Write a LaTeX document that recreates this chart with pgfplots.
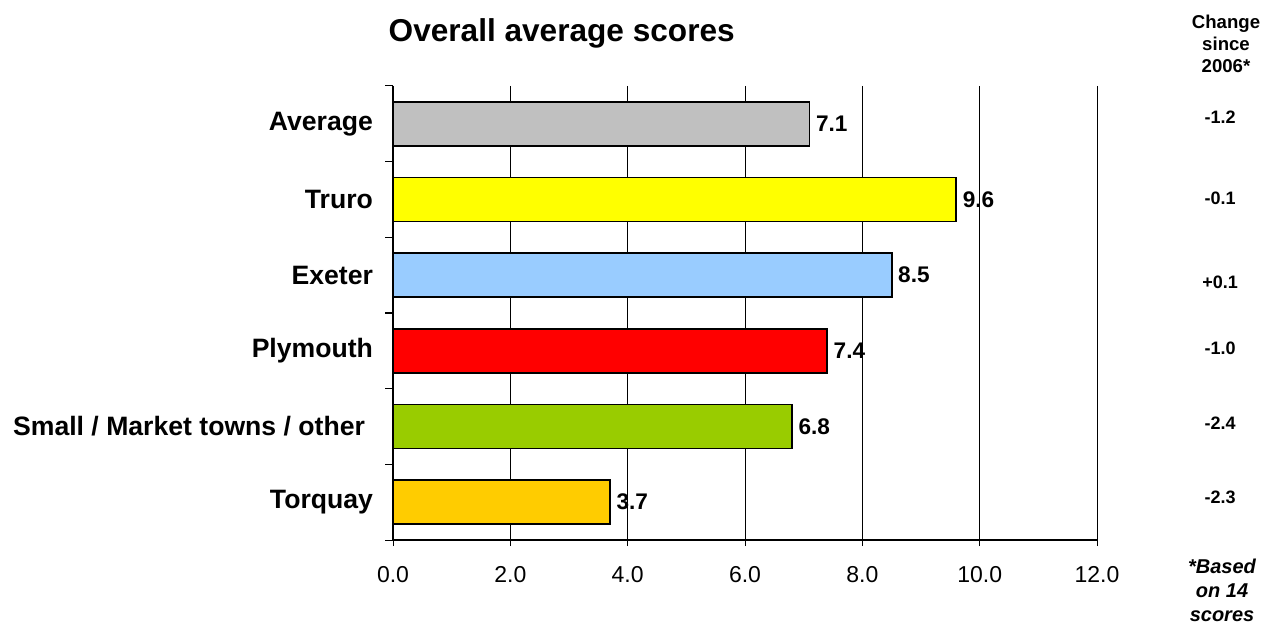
\documentclass[border=0pt]{standalone}
\usepackage{pgfplots}
\pgfplotsset{compat=1.18}
\usepackage{fontspec}
\setmainfont{Liberation Sans}

\definecolor{barGray}{HTML}{C0C0C0}
\definecolor{barYellow}{HTML}{FFFF00}
\definecolor{barBlue}{HTML}{99CCFF}
\definecolor{barRed}{HTML}{FF0000}
\definecolor{barGreen}{HTML}{99CC00}
\definecolor{barOrange}{HTML}{FFCC00}

\begin{document}
\begin{tikzpicture}
\path[use as bounding box] (0,0) rectangle (636pt,312pt);

% title
\node[anchor=west, font=\bfseries\fontsize{15.8}{19}\selectfont] at (190.8pt,295.5pt) {Overall average scores};

\begin{axis}[
  at={(196.5pt,42pt)}, anchor=south west,
  scale only axis, width=352pt, height=227pt,
  xmin=0, xmax=12, ymin=-0.5, ymax=5.5,
  y dir=reverse,
  axis lines*=left,
  axis line style={black, line width=0.6pt},
  xtick={0,2,...,12},
  xmajorgrids=true,
  grid style={black, line width=0.5pt},
  xticklabel style={font=\fontsize{11.5}{13}\selectfont, yshift=-6.5pt,
    /pgf/number format/.cd, fixed, zerofill, precision=1, assume math mode=true},
  ytick={0,...,5},
  yticklabels={Average, Truro, Exeter, Plymouth, {Small / Market towns / other\rule{4pt}{0pt}}, Torquay},
  yticklabel style={font=\bfseries\fontsize{13.3}{15}\selectfont, xshift=-3.5pt},
  minor ytick={-0.5,0.5,...,5.5},
  tick align=outside,
  major tick length=3pt,
  minor tick length=4pt,
  major y tick style={draw=none},
  minor y tick style={draw=black, line width=0.5pt},
  xtick style={black, line width=0.5pt},
  clip=false,
  xbar, bar width=22pt, bar shift=0pt,
  nodes near coords,
  point meta=x,
  nodes near coords style={font=\bfseries\fontsize{11.3}{14}\selectfont, anchor=west, xshift=-0.5pt,
    /pgf/number format/.cd, fixed, zerofill, precision=1, assume math mode=true},
]
\addplot[draw=black, line width=0.9pt, fill=barGray]   coordinates {(7.1,0)};
\addplot[draw=black, line width=0.9pt, fill=barYellow] coordinates {(9.6,1)};
\addplot[draw=black, line width=0.9pt, fill=barBlue]   coordinates {(8.5,2)};
\addplot[draw=black, line width=0.9pt, fill=barRed]    coordinates {(7.4,3)};
\addplot[draw=black, line width=0.9pt, fill=barGreen]  coordinates {(6.8,4)};
\addplot[draw=black, line width=0.9pt, fill=barOrange] coordinates {(3.7,5)};

% change since 2006 column
\begin{scope}[every node/.style={font=\bfseries\fontsize{9}{10}\selectfont}]
\node at (axis cs:14.1,-0.09) {-1.2};
\node at (axis cs:14.1,0.99) {-0.1};
\node at (axis cs:14.1,2.09) {+0.1};
\node at (axis cs:14.1,2.97) {-1.0};
\node at (axis cs:14.1,3.96) {-2.4};
\node at (axis cs:14.1,4.93) {-2.3};
\end{scope}
\end{axis}

\node[align=center, font=\bfseries\fontsize{9.3}{11}\selectfont] at (613pt,290pt) {Change\\since\\2006*};
\node[align=center, font=\bfseries\itshape\fontsize{10}{12}\selectfont] at (611pt,17pt) {*Based\\on 14\\scores};
\end{tikzpicture}
\end{document}
